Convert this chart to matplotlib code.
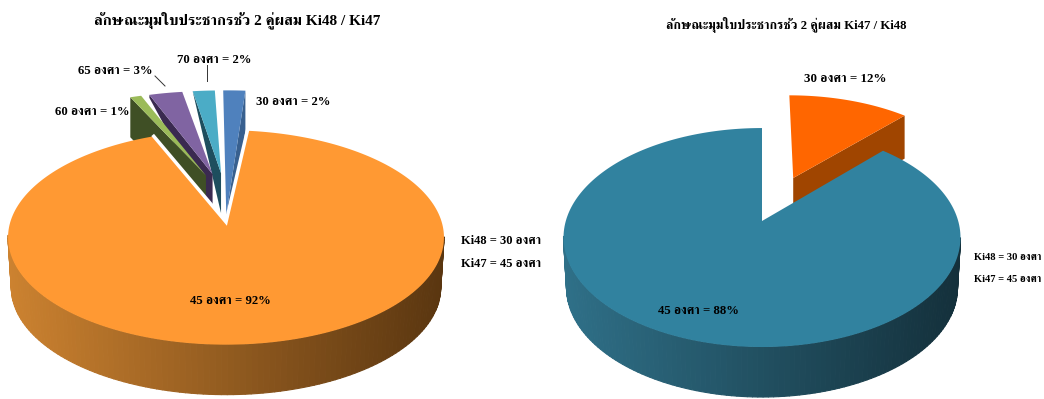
import matplotlib
matplotlib.use('Agg')
import matplotlib.pyplot as plt
from matplotlib.collections import PolyCollection
from matplotlib.colors import to_rgb
import numpy as np

# data
left_title = 'ลักษณะมุมใบประชากรชั่ว 2 คู่ผสม Ki48 / Ki47'
right_title = 'ลักษณะมุมใบประชากรชั่ว 2 คู่ผสม Ki47 / Ki48'
left_shares = [92, 2, 2, 3, 1]
left_labels = ['45 องศา = 92%', '30 องศา = 2%', '70 องศา = 2%', '65 องศา = 3%', '60 องศา = 1%']
right_shares = [88, 12]
right_labels = ['45 องศา = 88%', '30 องศา = 12%']
left_notes = ['Ki48 = 30 องศา', 'Ki47 = 45 องศา']
right_notes = ['Ki48 = 30 องศา', 'Ki47 = 45 องศา']

plt.rcParams['font.family'] = ['Liberation Serif', 'FreeSerif', 'Taviraj']
plt.rcParams['font.weight'] = 'bold'

fig = plt.figure(figsize=(10.44, 3.99), dpi=100)
ax = fig.add_axes([0, 0, 1, 1])
ax.set_xlim(0, 1044)
ax.set_ylim(399, 0)
ax.axis('off')


def project(u, v, g):
    den = 1 + g['p'] * v
    return g['cx'] + g['rx'] * u / den, g['cy'] - g['ry'] * v / den


def arc(a0, a1, offset, g):
    t = np.radians(np.linspace(a0, a1, 240))
    return project(offset[0] + np.cos(t), offset[1] + np.sin(t), g)


def draw_main(share, start, g, side_from, side_to, top_color, gap_line):
    # clockwise from the start angle
    a1 = start - share * 3.6
    x, y = arc(start, a1, (0, 0), g)
    xb = g['cx'] + (x - g['cx']) * 0.985
    yb = y + g['depth']
    c0, c1 = np.array(to_rgb(side_from)), np.array(to_rgb(side_to))
    quads, cols = [], []
    limit = y[np.argmax(x)] - 1
    for i in range(len(x) - 1):
        if y[i] < limit:
            continue
        quads.append([(x[i], y[i]), (x[i + 1], y[i + 1]), (xb[i + 1], yb[i + 1]), (xb[i], yb[i])])
        k = np.clip((x[i] - x.min()) / (x.max() - x.min()), 0, 1)
        cols.append(c0 + (c1 - c0) * k)
    ax.add_collection(PolyCollection(quads, facecolors=cols, edgecolors='face', linewidths=0.8))
    hx, hy = project(0, 0, g)
    ax.fill(np.r_[hx, x], np.r_[hy, y], color=top_color, lw=0)
    if gap_line > 0:
        ax.plot([x[0], hx, x[-1]], [y[0], hy, y[-1]], color='white', lw=gap_line, solid_joinstyle='miter')


def draw_piece(mid_deg, width, rim_e, hub_e, lean, rim_depth, hub_depth, side_edge, top_color, side_color, g):
    mid = np.radians(mid_deg)
    off = (rim_e * np.cos(mid), rim_e * np.sin(mid))
    x, y = arc(mid_deg - width / 2, mid_deg + width / 2, off, g)
    hx, hy = project(hub_e * np.cos(mid) * lean, hub_e * np.sin(mid), g)
    i = 0 if side_edge == 'start' else -1
    ax.fill([x[i], hx, hx, x[i]], [y[i], hy, hy + hub_depth, y[i] + rim_depth], color=side_color, lw=0)
    ax.fill(np.r_[hx, x], np.r_[hy, y], color=top_color, lw=0)


# left pie
gl = dict(cx=226, cy=222, rx=215.7, ry=105, p=0.144, depth=50)
start = 83.5
# pieces go counter clockwise from the main slice start
piece_colors = ['#4F81BD', '#4BACC6', '#8064A2', '#9BBB59']
piece_sides = ['#38608F', '#1E4E5E', '#3A2A50', '#3F4F25']
hub_e = [0.07, 0.5, 0.5, 0.5]
rim_depth = [40, 0, 3, 40]
side_edge = ['start', 'end', 'end', 'end']
a = 85
for n, s in enumerate(left_shares[1:]):
    w = s * 3.6
    draw_piece(a + w * 0.45, w, 0.53, hub_e[n], 0.6, rim_depth[n], 40, side_edge[n],
               piece_colors[n], piece_sides[n], gl)
    a += w * 0.9
draw_main(left_shares[0], start, gl, '#CC8230', '#5A3610', '#FF9933', 2.5)

# right pie
gr = dict(cx=762, cy=221, rx=196.2, ry=107, p=0.151, depth=50)
w_r = right_shares[1] * 3.6
start_r = 90 - w_r
draw_piece(start_r + w_r / 2, w_r, 0.46, 0.46, 1, 43, 43, 'start', '#FF6600', '#A04500', gr)
draw_main(right_shares[0], start_r, gr, '#2F7088', '#14303B', '#31829F', 0)

# leader lines
ax.plot([155, 165], [76, 86], color='#333333', lw=0.7)
ax.plot([207, 207], [65, 81], color='#333333', lw=0.7)

# text
ax.text(237, 20, left_title, ha='center', va='center', fontsize=11)
ax.text(786, 24, right_title, ha='center', va='center', fontsize=9.2)
ax.text(230, 301, left_labels[0], ha='center', va='center', fontsize=9.2)
ax.text(293, 102, left_labels[1], ha='center', va='center', fontsize=9.2)
ax.text(214, 60, left_labels[2], ha='center', va='center', fontsize=9.2)
ax.text(115, 71, left_labels[3], ha='center', va='center', fontsize=9.2)
ax.text(92, 112, left_labels[4], ha='center', va='center', fontsize=9.2)
ax.text(698, 311, right_labels[0], ha='center', va='center', fontsize=9.2)
ax.text(845, 79, right_labels[1], ha='center', va='center', fontsize=9.4)
ax.text(461, 241, left_notes[0], ha='left', va='center', fontsize=9)
ax.text(461, 264, left_notes[1], ha='left', va='center', fontsize=9)
ax.text(974, 257, right_notes[0], ha='left', va='center', fontsize=7.6)
ax.text(974, 279, right_notes[1], ha='left', va='center', fontsize=7.6)

fig.savefig('out.png', dpi=100)
